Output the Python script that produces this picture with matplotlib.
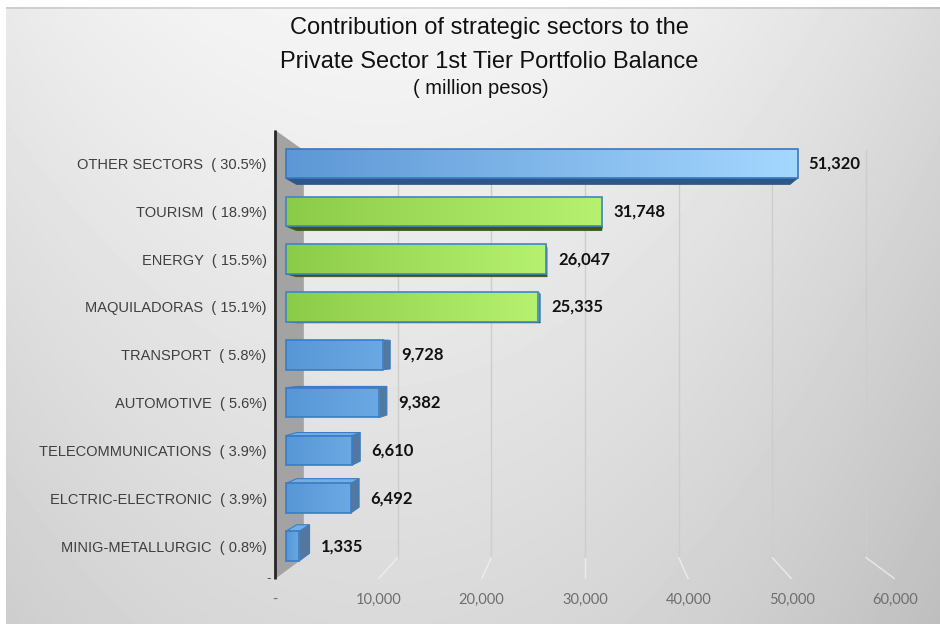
import numpy as np
import matplotlib.pyplot as plt
from matplotlib.patches import Polygon
from matplotlib.colors import LinearSegmentedColormap

sectors = ['OTHER SECTORS', 'TOURISM', 'ENERGY', 'MAQUILADORAS', 'TRANSPORT',
           'AUTOMOTIVE', 'TELECOMMUNICATIONS', 'ELCTRIC-ELECTRONIC', 'MINIG-METALLURGIC']
shares = [30.5, 18.9, 15.5, 15.1, 5.8, 5.6, 3.9, 3.9, 0.8]
balance = [51320, 31748, 26047, 25335, 9728, 9382, 6610, 6492, 1335]
groups = ['other', 'key', 'key', 'key', 'rest', 'rest', 'rest', 'rest', 'rest']
x_ticks = [0, 10000, 20000, 30000, 40000, 50000, 60000]
x_tick_labels = ['-', '10,000', '20,000', '30,000', '40,000', '50,000', '60,000']

# colours per group: gradient left/right, outline and the shaded box faces
palette = {
    'other': dict(left='#5d97d5', right='#a5d8ff', edge='#3578c4',
                  side='#3f6f9f', bottom='#2d5784', top='#7fb6ea'),
    'key': dict(left='#8ccb48', right='#b6f270', edge='#3f86c4',
                side='#5e8a2c', bottom='#3b561c', top='#a8e466'),
    'rest': dict(left='#5797d6', right='#6ba9e3', edge='#3a7cc6',
                 side='#52789f', bottom='#2f5c8a', top='#75aee4'),
}

# simple perspective: vanishing point (data units), depth of back wall and bars
VP = (30000, 3.9)
BACK = 0.093
BAR_FRONT, BAR_BACK = 0.035, 0.07
BAR_H = 0.62
Y_TOP, Y_BOT = -0.54, 8.52


def proj(x, y, d):
    return x + d * (VP[0] - x), y + d * (VP[1] - y)


fig = plt.figure(figsize=(9.4, 6.24), dpi=100)
fig.patch.set_facecolor('white')

# grey gradient backdrop
bg = fig.add_axes([6 / 940, 0, 934 / 940, 617 / 624])
xx, yy = np.meshgrid(np.linspace(0, 1, 934), np.linspace(0, 1, 617))
shade = 0.975 - 0.09 * ((xx - 0.45) / 0.55) ** 2 - 0.11 * yy - 0.03 * xx
shade[:2] *= 0.88
bg.imshow(shade, cmap='gray', vmin=0, vmax=1, aspect='auto', interpolation='bilinear')
bg.set_axis_off()

ax = fig.add_axes([275 / 940, 1 - 579 / 624, 620 / 940, 449 / 624])
ax.patch.set_alpha(0)
for s in ax.spines.values():
    s.set_visible(False)

# gridlines on the back wall, bending down to the floor front edge
for v in x_ticks[1:]:
    top, bottom, front = proj(v, Y_TOP, BACK), proj(v, Y_BOT, BACK), proj(v, Y_BOT, 0)
    ax.plot([top[0], bottom[0]], [top[1], bottom[1]], color='#cdcdcd', lw=1, zorder=1)
    ax.plot([bottom[0], front[0]], [bottom[1], front[1]], color='#f2f2f2', lw=1,
            alpha=0.8, zorder=1)

# left wall
wall = Polygon([proj(0, Y_TOP, 0), proj(0, Y_TOP, BACK),
                proj(0, Y_BOT, BACK), proj(0, Y_BOT, 0)],
               closed=True, facecolor='#a3a3a3', edgecolor='none', zorder=2)
ax.add_patch(wall)
ax.plot([0, 0], [Y_TOP, Y_BOT], color='#262626', lw=2, zorder=3,
        solid_capstyle='butt', clip_on=False)

grad = np.linspace(0, 1, 256)[None, :]
label_y = []
for i, (v, g) in enumerate(zip(balance, groups)):
    c = palette[g]
    y0, y1 = i - BAR_H / 2, i + BAR_H / 2
    fx, yc = proj(v, i, BAR_FRONT)
    bx, _ = proj(v, i, BAR_BACK)
    label_y.append(yc)

    if bx > fx:
        side = [proj(v, y0, BAR_FRONT), proj(v, y0, BAR_BACK),
                proj(v, y1, BAR_BACK), proj(v, y1, BAR_FRONT)]
        ax.add_patch(Polygon(side, closed=True, facecolor=c['side'],
                             edgecolor=c['edge'], lw=0.8, zorder=4))
    if y1 < VP[1]:
        face = [proj(0, y1, BAR_FRONT), proj(v, y1, BAR_FRONT),
                proj(v, y1, BAR_BACK), proj(0, y1, BAR_BACK)]
        ax.add_patch(Polygon(face, closed=True, facecolor=c['bottom'],
                             edgecolor=c['bottom'], lw=0.5, zorder=4))
    elif y0 > VP[1]:
        face = [proj(0, y0, BAR_FRONT), proj(v, y0, BAR_FRONT),
                proj(v, y0, BAR_BACK), proj(0, y0, BAR_BACK)]
        ax.add_patch(Polygon(face, closed=True, facecolor=c['top'],
                             edgecolor=c['edge'], lw=0.8, zorder=4))

    left = BAR_FRONT * VP[0]
    width = v * (1 - BAR_FRONT)
    h = BAR_H * (1 - BAR_FRONT)
    bar = ax.barh(yc, width, left=left, height=h, facecolor='none',
                  edgecolor=c['edge'], lw=1.2, zorder=6)[0]
    cmap = LinearSegmentedColormap.from_list(g, [c['left'], c['right']])
    im = ax.imshow(grad, cmap=cmap, aspect='auto', zorder=5,
                   extent=(left, left + width, yc + h / 2, yc - h / 2))
    im.set_clip_path(bar)

    ax.annotate(f'{v:,}', xy=(max(fx, bx), yc), xytext=(8, 0),
                textcoords='offset points', ha='left', va='center',
                fontsize=12, fontweight='bold', family='Lato', color='#111111')

ax.set_xlim(0, 60000)
ax.set_ylim(Y_BOT, Y_TOP)

ax.set_xticks(x_ticks)
ax.set_xticklabels(x_tick_labels, family='Lato', fontsize=10.5, color='#6e6e6e')
ax.set_yticks(label_y)
ax.set_yticklabels([f'{s}  ( {p:.1f}%)' for s, p in zip(sectors, shares)],
                   family='Liberation Sans', fontsize=10.5, color='#3f3f3f')
ax.tick_params(axis='x', length=0, pad=10)
ax.tick_params(axis='y', length=0, pad=6)
ax.annotate('-', xy=(0, Y_BOT), xytext=(-3, 0), textcoords='offset points',
            ha='right', va='center', color='#555555', fontsize=9)

fig.text(489 / 940, 1 - 28 / 624, 'Contribution of strategic sectors to the',
         ha='center', va='center', fontsize=17, family='Liberation Sans', color='#111111')
fig.text(489 / 940, 1 - 62 / 624, 'Private Sector 1st Tier Portfolio Balance',
         ha='center', va='center', fontsize=17, family='Liberation Sans', color='#111111')
fig.text(481 / 940, 1 - 89 / 624, '( million pesos)',
         ha='center', va='center', fontsize=14.5, family='Liberation Sans', color='#111111')

fig.savefig('out.png', dpi=100)
